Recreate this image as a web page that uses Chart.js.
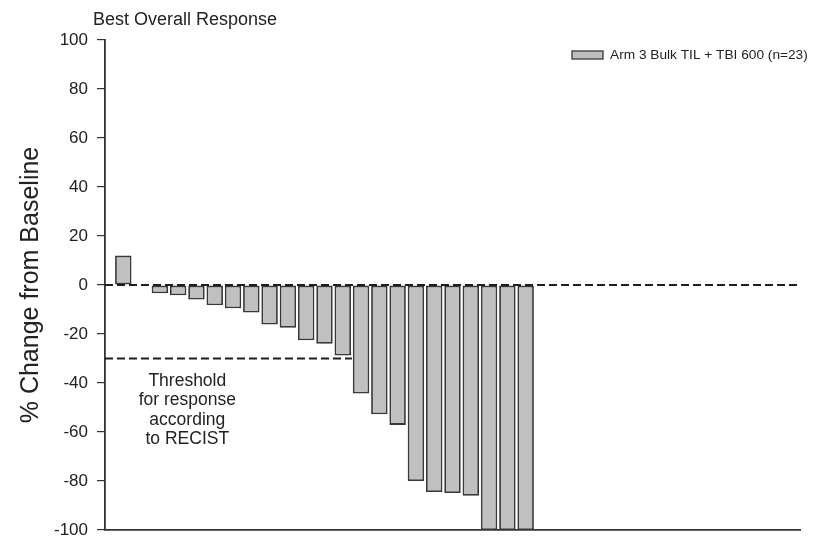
<!DOCTYPE html>
<html>
<head>
<meta charset="utf-8">
<script src="https://cdn.jsdelivr.net/npm/chart.js@4/dist/chart.umd.min.js"></script>
<style>
  html, body { margin: 0; padding: 0; background: #ffffff; }
  #wrap { width: 815px; height: 538px; }
</style>
</head>
<body>
<div id="wrap"><canvas id="c" width="815" height="538"></canvas></div>
<script>
// ---- data ----
const patients = [1, 2, 3, 4, 5, 6, 7, 8, 9, 10, 11, 12, 13, 14, 15, 16, 17, 18, 19, 20, 21, 22, 23];
const changes = [12, 0, -3.4, -4.2, -5.9, -8.3, -9.5, -11.2, -16.1, -17.4, -22.6, -24.0, -28.8,
                 -44.3, -52.8, -57.1, -80.0, -84.5, -84.9, -86.0, -100, -100, -100];
const yTicks = [100, 80, 60, 40, 20, 0, -20, -40, -60, -80, -100];
const seriesLabel = 'Arm 3 Bulk TIL + TBI 600 (n=23)';
const chartTitle = 'Best Overall Response';
const yTitle = '% Change from Baseline';
const thresholdValue = -30;
const thresholdEndX = 13.5;
const xMax = 38;
const thresholdText = ['Threshold', 'for response', 'according', 'to RECIST'];

const FONT = '"Liberation Sans", Arial, sans-serif';
const TEXT = '#222222';
const AXIS = '#333333';
const BAR_FILL = '#c0c0c0';
const BAR_EDGE = '#383838';

const points = patients.map((p, i) => ({ x: p, y: changes[i] }));

const overlay = {
  id: 'overlay',
  afterDatasetsDraw(chart) {
    const ctx = chart.ctx;
    const xs = chart.scales.x, ys = chart.scales.y;
    ctx.save();
    // dashed reference lines
    ctx.strokeStyle = '#1e1e1e';
    ctx.lineWidth = 1.8;
    ctx.setLineDash([8, 4]);
    ctx.beginPath();
    const y0 = ys.getPixelForValue(0);
    ctx.moveTo(xs.getPixelForValue(0), y0);
    ctx.lineTo(xs.getPixelForValue(xMax), y0);
    const yt = ys.getPixelForValue(thresholdValue);
    ctx.moveTo(xs.getPixelForValue(0), yt);
    ctx.lineTo(xs.getPixelForValue(thresholdEndX), yt);
    ctx.stroke();
    ctx.setLineDash([]);

    // threshold annotation
    ctx.fillStyle = TEXT;
    ctx.font = '17.5px ' + FONT;
    ctx.textAlign = 'center';
    ctx.textBaseline = 'alphabetic';
    const cx = xs.getPixelForValue(4.5);
    let by = yt + 27;
    thresholdText.forEach((line, i) => {
      ctx.fillText(line, cx, by + i * 19.5);
    });

    // chart title
    ctx.textAlign = 'left';
    ctx.font = '18px ' + FONT;
    ctx.fillText(chartTitle, 93, 25);

    // legend
    ctx.fillStyle = BAR_FILL;
    ctx.fillRect(572, 51, 31, 8);
    ctx.strokeStyle = BAR_EDGE;
    ctx.lineWidth = 1.3;
    ctx.strokeRect(572, 51, 31, 8);
    ctx.fillStyle = TEXT;
    ctx.font = '13.7px ' + FONT;
    ctx.textBaseline = 'middle';
    ctx.fillText(seriesLabel, 610, 55.5);
    ctx.restore();
  }
};

new Chart(document.getElementById('c'), {
  type: 'bar',
  data: {
    datasets: [{
      label: seriesLabel,
      data: points,
      backgroundColor: BAR_FILL,
      borderColor: BAR_EDGE,
      borderWidth: 1.8,
      borderSkipped: false,
      barPercentage: 0.9,
      categoryPercentage: 1.0
    }]
  },
  options: {
    responsive: false,
    animation: false,
    devicePixelRatio: 1,
    layout: { padding: { top: 40, right: 15, left: 0, bottom: 0 } },
    plugins: { legend: { display: false }, tooltip: { enabled: false }, title: { display: false } },
    scales: {
      x: {
        type: 'linear',
        min: 0,
        max: xMax,
        offset: false,
        grid: { display: false },
        ticks: { display: false },
        border: { display: true, color: AXIS, width: 1.8 },
        afterFit(s) { s.height = 8; s.paddingTop = 0; s.paddingBottom = 0; }
      },
      y: {
        min: -100,
        max: 100,
        afterBuildTicks(s) { s.ticks = yTicks.map(v => ({ value: v })); },
        ticks: {
          color: TEXT,
          padding: 9,
          font: { family: FONT, size: 17, lineHeight: 0.9 }
        },
        grid: { display: true, drawOnChartArea: false, drawTicks: true, tickLength: 8, color: AXIS, lineWidth: 1.2 },
        border: { display: true, color: AXIS, width: 1.8 },
        title: {
          display: true,
          text: yTitle,
          color: TEXT,
          font: { family: FONT, size: 25, lineHeight: 1.2 },
          padding: { top: 16, bottom: 0 }
        },
        afterFit(s) { s.width = 105; s.paddingTop = 0; s.paddingBottom = 0; }
      }
    }
  },
  plugins: [overlay]
});
</script>
</body>
</html>
